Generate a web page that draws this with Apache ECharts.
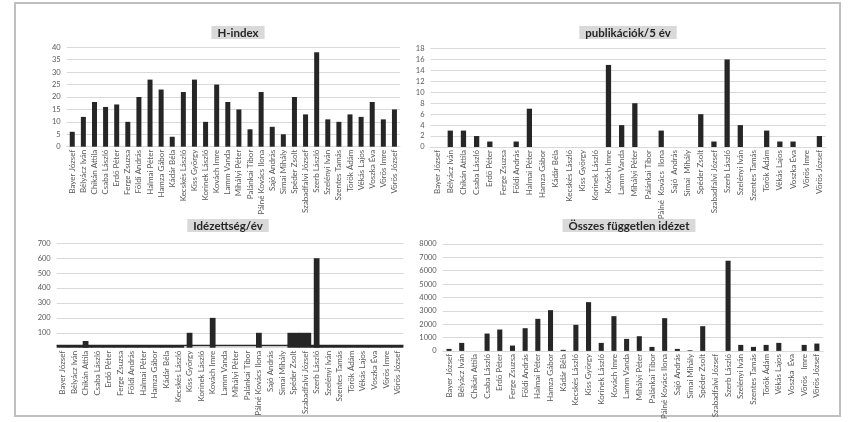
<!DOCTYPE html>
<html><head><meta charset="utf-8">
<script src="https://cdn.jsdelivr.net/npm/echarts@6/dist/echarts.min.js"></script>
<style>html,body{margin:0;padding:0;background:#fff}#c{width:861px;height:422px}</style>
</head><body><div id="c"></div>
<script>
const nevek = ["Bayer József","Bélyácz Iván","Chikán Attila","Csaba László","Erdő Péter","Ferge Zsuzsa","Földi András","Halmai Péter","Hamza Gábor","Kádár Béla","Kecskés László","Kiss György","Korinek László","Kovách Imre","Lamm Vanda","Mihályi Péter","Palánkai Tibor","Pálné Kovács Ilona","Sajó András","Simai Mihály","Spéder Zsolt","Szabadfalvi József","Szerb László","Szelényi Iván","Szentes Tamás","Török Ádám","Vékás Lajos","Voszka Éva","Vörös Imre","Vörös József"];
const nevek2 = ["Bayer József","Bélyácz Iván","Chikán Attila","Csaba László","Erdő Péter","Ferge Zsuzsa","Földi András","Halmai Péter","Hamza Gábor","Kádár Béla","Kecskés László","Kiss György","Korinek László","Kovách Imre","Lamm Vanda","Mihályi Péter","Palánkai Tibor","Pálné  Kovács  Ilona","Sajó  András","Simai  Mihály","Spéder Zsolt","Szabadfalvi József","Szerb László","Szelényi Iván","Szentes Tamás","Török Ádám","Vékás Lajos","Voszka Éva","Vörös Imre","Vörös József"];
const nevek4 = ["Bayer József","Bélyácz Iván","Chikán Attila","Csaba László","Erdő Péter","Ferge Zsuzsa","Földi András","Halmai Péter","Hamza Gábor","Kádár Béla","Kecskés László","Kiss György","Korinek László","Kovách Imre","Lamm Vanda","Mihályi Péter","Palánkai Tibor","Pálné Kovács Ilona","Sajó András","Simai Mihály","Spéder Zsolt","Szabadfalvi József","Szerb László","Szelényi Iván","Szentes Tamás","Török Ádám","Vékás Lajos","Voszka  Éva","Vörös   Imre","Vörös József"];

const hIndex =      [6,12,18,16,17,10,20,27,23,4,22,27,10,25,18,15,7,22,8,5,20,13,38,11,10,13,12,18,11,15];
const publikaciok = [0,3,3,2,1,0,1,7,0,0,0,0,0,15,4,8,0,3,0,0,6,1,16,4,0,3,1,1,0,2];
// Idézettség/év: narrow bars and the full-width (gap-less) bars
const idezettseg =    [0,0,45,0,0,0,0,0,0,0,0,100,0,200,0,0,0,100,0,0,null,null,600,0,0,0,0,0,0,0];
const idezettsegSav = [18,18,18,18,18,18,18,18,18,18,18,null,null,null,null,null,null,null,null,null,100,100,18,18,18,18,18,18,18,18];
const idezettsegVonal = 15;
const osszes = [150,600,0,1300,1600,400,1700,2400,3050,80,1950,3650,600,2600,900,1100,300,2450,150,50,1850,0,6750,450,300,450,600,0,450,550];

const FONT = 'Lato';
const LBL = '#595959', GRID = '#d9d9d9', BAR = '#262626';

function title(text, cx, top){
  return {text, left: cx, top, textAlign:'center', backgroundColor:'#d9d9d9', padding:[1,6,0,6],
    textStyle:{fontFamily:FONT, fontSize:11.5, fontWeight:'bold', color:'#262626', lineHeight:12}};
}
function xAx(gi, data, showLine, extra){
  return Object.assign({type:'category', gridIndex:gi, data,
    axisTick:{show:false},
    axisLine:{show:showLine, lineStyle:{color:GRID}},
    axisLabel:{rotate:90, interval:0, fontFamily:FONT, fontSize:8, color:LBL, margin:3}}, extra||{});
}
function yAx(gi, max, interval, hideZero){
  return {type:'value', gridIndex:gi, min:0, max, interval,
    axisLine:{show:false}, axisTick:{show:false},
    splitLine:{lineStyle:{color:GRID, width:1}},
    axisLabel:{fontFamily:FONT, fontSize:7.5, color:LBL, margin:6,
      formatter: v => (hideZero && v===0) ? '' : String(v)}};
}

const option = {
  animation:false,
  backgroundColor:'#fff',
  graphic:[{type:'rect', shape:{x:15,y:3,width:825,height:413}, style:{fill:'none', stroke:'#bfbfbf', lineWidth:2}}],
  title:[ title('H-index',232,26), title('publikációk/5 év',622,26), title('Idézettség/év',222,219), title('Összes független idézet',623,219) ],
  grid:[
    {left:66.7, top:47.3, width:333.3, height:99.4},
    {left:430.5, top:48.5, width:395.5, height:98.5},
    {left:56.7, top:243.3, width:346.6, height:104.4},
    {left:442.7, top:244, width:380.5, height:110.3}
  ],
  xAxis:[
    xAx(0,nevek,true), xAx(1,nevek2,true), xAx(2,nevek,false), xAx(3,nevek4,true),
    xAx(2,nevek,false,{axisLabel:{show:false}})
  ],
  yAxis:[ yAx(0,40,5), yAx(1,18,2), yAx(2,700,100,true), yAx(3,8000,1000) ],
  series:[
    {type:'bar', name:'H-index', xAxisIndex:0, yAxisIndex:0, data:hIndex, barWidth:'45%', itemStyle:{color:BAR}},
    {type:'bar', name:'publikációk/5 év', xAxisIndex:1, yAxisIndex:1, data:publikaciok, barWidth:'40%', itemStyle:{color:BAR}},
    {type:'bar', name:'sáv', xAxisIndex:4, yAxisIndex:2, data:idezettsegSav, barWidth:'106%', itemStyle:{color:BAR},
      markLine:{silent:true, symbol:'none', label:{show:false}, lineStyle:{color:BAR, type:'solid', width:1.3}, data:[{yAxis:idezettsegVonal}]}},
    {type:'bar', name:'Idézettség/év', xAxisIndex:2, yAxisIndex:2, data:idezettseg, barWidth:'50%', itemStyle:{color:BAR}},
    {type:'bar', name:'Összes független idézet', xAxisIndex:3, yAxisIndex:3, data:osszes, barWidth:'40%', itemStyle:{color:BAR}}
  ]
};
echarts.init(document.getElementById('c'), null, {renderer:'canvas'}).setOption(option);
</script></body></html>
